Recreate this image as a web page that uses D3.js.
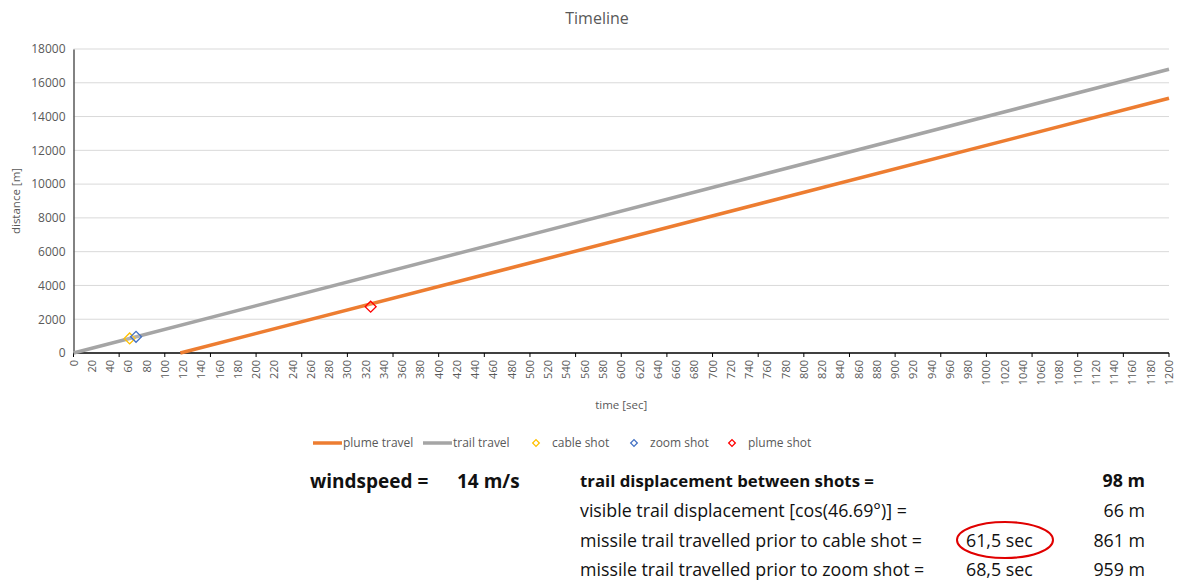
<!DOCTYPE html>
<meta charset="utf-8">
<script src="https://d3js.org/d3.v7.min.js"></script>
<style>
  body { margin: 0; background: #fff; }
  text { font-family: "Open Sans", "DejaVu Sans", sans-serif; }
</style>
<body>
<div id="my_dataviz"></div>
<script>
// data
var trailTime = [0, 1200],
    trailDist = [0, 16800];
var plumeTime = [117, 1200],
    plumeDist = [0, 15080];
var shotNames = ["cable shot", "zoom shot", "plume shot"],
    shotTime = [61.5, 68.5, 325.5],
    shotDist = [861, 959, 2740],
    shotColors = ["#ffc000", "#4472c4", "#ff0000"];
var yTicks = [0, 2000, 4000, 6000, 8000, 10000, 12000, 14000, 16000, 18000];
var xLabels = d3.range(0, 1201, 20);
var xTickMarks = d3.range(0, 1201, 50);

// table under the chart
var tableLabels = ["trail displacement between shots =",
                   "visible trail displacement [cos(46.69°)] =",
                   "missile trail travelled prior to cable shot =",
                   "missile trail travelled prior to zoom shot ="];
var tableSecs = ["", "", "61,5  sec", "68,5  sec"];
var tableMeters = ["98  m", "66  m", "861  m", "959  m"];

var W = 1177, H = 581;
var margin = {top: 49, right: 8, bottom: 228, left: 73.5},
    width = W - margin.left - margin.right,
    height = H - margin.top - margin.bottom;

var svg = d3.select("#my_dataviz")
  .append("svg")
    .attr("width", W)
    .attr("height", H);

var g = svg.append("g")
    .attr("transform", "translate(" + margin.left + "," + margin.top + ")");

var x = d3.scaleLinear().domain([0, 1200]).range([0, width]);
var y = d3.scaleLinear().domain([0, 18000]).range([height, 0]);

// title
svg.append("text")
  .attr("x", 597).attr("y", 24)
  .attr("text-anchor", "middle")
  .style("font-size", "16px")
  .style("fill", "#595959")
  .text("Timeline");

// gridlines
g.append("g").selectAll("line")
  .data(yTicks.slice(1))
  .enter().append("line")
    .attr("x1", 0).attr("x2", width)
    .attr("y1", function(d) { return y(d); })
    .attr("y2", function(d) { return y(d); })
    .style("stroke", "#d9d9d9").style("stroke-width", 1);

// y axis
var yAxis = g.append("g")
  .call(d3.axisLeft(y).tickValues(yTicks).tickSize(0).tickPadding(8).tickFormat(d3.format("d")));
yAxis.select(".domain").style("stroke", "#595959").style("stroke-width", 1.5);
yAxis.selectAll("text").style("font-size", "12px").style("fill", "#595959")
  .style("font-family", '"Open Sans", sans-serif');

// x axis: tick marks every 50, labels every 20
var xAxisG = g.append("g").attr("transform", "translate(0," + height + ")");
xAxisG.append("line")
  .attr("x1", 0).attr("x2", width)
  .style("stroke", "#000").style("stroke-width", 1.5);
xAxisG.selectAll(".tm")
  .data(xTickMarks)
  .enter().append("line")
    .attr("class", "tm")
    .attr("x1", function(d) { return x(d); })
    .attr("x2", function(d) { return x(d); })
    .attr("y1", 0).attr("y2", 4)
    .style("stroke", "#000").style("stroke-width", 1);
xAxisG.selectAll(".tl")
  .data(xLabels)
  .enter().append("text")
    .attr("class", "tl")
    .attr("transform", function(d) { return "translate(" + (x(d) + 4) + ",7) rotate(-90)"; })
    .attr("text-anchor", "end")
    .style("font-size", "11px")
    .style("fill", "#595959")
    .text(function(d) { return d; });

// axis titles
svg.append("text")
  .attr("transform", "translate(20," + (margin.top + height / 2) + ") rotate(-90)")
  .attr("text-anchor", "middle")
  .style("font-size", "11.5px").style("fill", "#595959")
  .text("distance [m]");
svg.append("text")
  .attr("x", margin.left + width / 2).attr("y", 409)
  .attr("text-anchor", "middle")
  .style("font-size", "11.5px").style("fill", "#595959")
  .text("time [sec]");

// lines
var line = d3.line()
  .x(function(d) { return x(d[0]); })
  .y(function(d) { return y(d[1]); });

g.append("path")
  .datum(d3.zip(trailTime, trailDist))
  .attr("d", line)
  .style("fill", "none").style("stroke", "#a5a5a5").style("stroke-width", 3.5);
g.append("path")
  .datum(d3.zip(plumeTime, plumeDist))
  .attr("d", line)
  .style("fill", "none").style("stroke", "#ed7d31").style("stroke-width", 3.5);

// shot markers
g.append("g").selectAll("path")
  .data(d3.range(shotNames.length))
  .enter().append("path")
    .attr("d", d3.symbol().type(d3.symbolSquare).size(60))
    .attr("transform", function(i) { return "translate(" + x(shotTime[i]) + "," + y(shotDist[i]) + ") rotate(45)"; })
    .style("fill", "#fff").style("fill-opacity", 0.15)
    .style("stroke", function(i) { return shotColors[i]; })
    .style("stroke-width", 1.3);

// legend
var legend = svg.append("g").attr("transform", "translate(0,443)");
var lineLegend = [{name: "plume travel", color: "#ed7d31", x: 313},
                  {name: "trail travel", color: "#a5a5a5", x: 423}];
lineLegend.forEach(function(d) {
  legend.append("line").attr("x1", d.x).attr("x2", d.x + 29)
    .style("stroke", d.color).style("stroke-width", 3.5);
  legend.append("text").attr("x", d.x + 30).attr("y", 4)
    .style("font-size", "12px").style("fill", "#595959").text(d.name);
});
var markerLegendX = [536, 634, 732];
shotNames.forEach(function(name, i) {
  legend.append("path")
    .attr("d", d3.symbol().type(d3.symbolSquare).size(22))
    .attr("transform", "translate(" + markerLegendX[i] + ",0) rotate(45)")
    .style("fill", "none").style("stroke", shotColors[i]).style("stroke-width", 1.3);
  legend.append("text").attr("x", markerLegendX[i] + 16).attr("y", 4)
    .style("font-size", "12px").style("fill", "#595959").text(name);
});

// text table
svg.append("text").attr("x", 310).attr("y", 488)
  .style("font-size", "19px").style("font-weight", "bold").style("fill", "#111")
  .text("windspeed =");
svg.append("text").attr("x", 457).attr("y", 488)
  .style("font-size", "19px").style("font-weight", "bold").style("fill", "#111")
  .text("14  m/s");

var rowY = [487, 517, 547, 576];
tableLabels.forEach(function(t, i) {
  var bold = i === 0 ? "bold" : "normal";
  var fs = i === 0 ? "16.8px" : "17.8px";
  svg.append("text").attr("x", 580).attr("y", rowY[i])
    .style("font-size", fs).style("font-weight", bold).style("fill", "#111")
    .text(t);
  if (tableSecs[i]) {
    svg.append("text").attr("x", 966).attr("y", rowY[i])
      .style("font-size", "17.8px").style("fill", "#111")
      .text(tableSecs[i]);
  }
  svg.append("text").attr("x", 1145).attr("y", rowY[i])
    .attr("text-anchor", "end")
    .style("font-size", "17.8px").style("font-weight", bold).style("fill", "#111")
    .text(tableMeters[i]);
});

// red ellipse around the cable shot time
svg.append("ellipse")
  .attr("cx", 1005).attr("cy", 540).attr("rx", 48).attr("ry", 18)
  .style("fill", "none").style("stroke", "#e00000").style("stroke-width", 2);
</script>
</body>
